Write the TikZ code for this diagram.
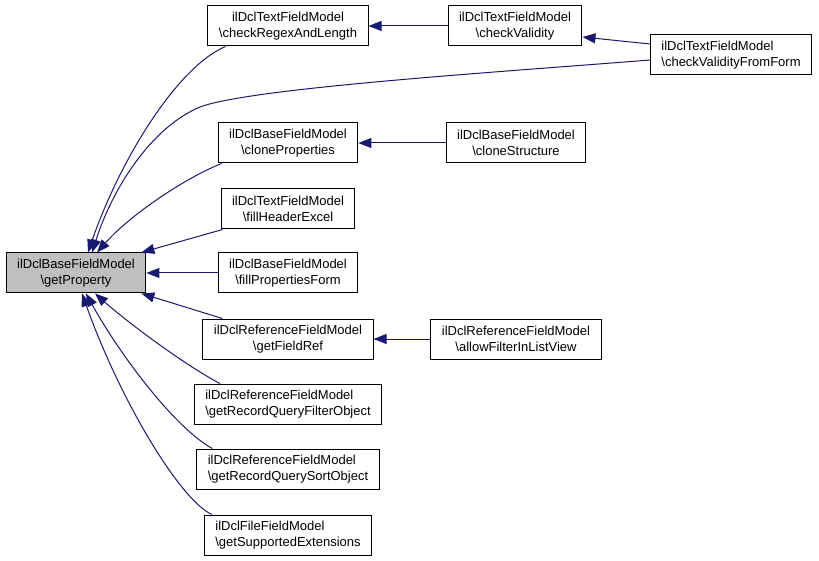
\documentclass[tikz,border=0pt]{standalone}
\usepackage{fontspec}
\setmainfont{Liberation Sans}
\usepackage{tikz}
\usetikzlibrary{arrows.meta}
\definecolor{callblue}{HTML}{191970}
\definecolor{focus}{HTML}{BFBFBF}

\begin{document}
\begin{tikzpicture}[x=1pt, y=-1pt, every node/.style={font=\fontsize{13}{15.5}\selectfont},
  fn/.style={draw=black, line width=1pt, minimum height=40pt, inner xsep=11pt, align=center},
  fnl/.style={fn, align=left},
  call/.style={draw=callblue, line width=1pt, -{Triangle[length=13pt, width=10pt]}}]
  \useasboundingbox (0,0) rectangle (819,561);

  % functions
  \node[fn, fill=focus] (getProp) at (76,273) {ilDclBaseFieldModel\\\textbackslash getProperty};
  \node[fn] (checkRegex) at (288,26) {ilDclTextFieldModel\\\textbackslash checkRegexAndLength};
  \node[fn] (checkValid) at (515,26) {ilDclTextFieldModel\\\textbackslash checkValidity};
  \node[fnl] (fromForm) at (731,55) {ilDclTextFieldModel\\\textbackslash checkValidityFromForm};
  \node[fn] (cloneProps) at (288,143) {ilDclBaseFieldModel\\\textbackslash cloneProperties};
  \node[fn] (cloneStruct) at (516,143) {ilDclBaseFieldModel\\\textbackslash cloneStructure};
  \node[fn] (fillHeader) at (288,209) {ilDclTextFieldModel\\\textbackslash fillHeaderExcel};
  \node[fn] (fillProps) at (288,273) {ilDclBaseFieldModel\\\textbackslash fillPropertiesForm};
  \node[fn] (getFieldRef) at (288,339) {ilDclReferenceFieldModel\\\textbackslash getFieldRef};
  \node[fn] (allowFilter) at (516,339) {ilDclReferenceFieldModel\\\textbackslash allowFilterInListView};
  \node[fnl] (filterObj) at (288,404) {ilDclReferenceFieldModel\\\textbackslash getRecordQueryFilterObject};
  \node[fnl] (sortObj) at (288,469) {ilDclReferenceFieldModel\\\textbackslash getRecordQuerySortObject};
  \node[fnl] (suppExt) at (288,535) {ilDclFileFieldModel\\\textbackslash getSupportedExtensions};

  % calls
  \draw[call] (checkValid.west) -- (checkRegex.east);
  \draw[call] ([yshift=11pt]fromForm.west) -- ([yshift=-11pt]checkValid.east);
  \draw[call] ([yshift=-5pt]fromForm.west) .. controls (500,72) and (250,88) .. (200,107)
    .. controls (150,128) and (112,190) .. ([xshift=16pt]getProp.north);
  \draw[call] ([xshift=18pt]checkRegex.south west) .. controls (175,68) and (118,165) .. ([xshift=12pt]getProp.north);
  \draw[call] (cloneStruct.west) -- (cloneProps.east);
  \draw[call] ([xshift=4pt]cloneProps.south west) .. controls (185,178) and (130,215) .. ([xshift=21pt]getProp.north);
  \draw[call] ([xshift=2pt]fillHeader.south west) -- ([xshift=-5pt]getProp.north east);
  \draw[call] (fillProps.west) -- (getProp.east);
  \draw[call] ([xshift=20pt]getFieldRef.north west) -- ([xshift=-5pt]getProp.south east);
  \draw[call] (allowFilter.west) -- (getFieldRef.east);
  \draw[call] ([xshift=26pt]filterObj.north west) .. controls (180,362) and (125,320) .. ([xshift=19pt]getProp.south);
  \draw[call] ([xshift=16pt]sortObj.north west) .. controls (175,428) and (120,355) .. ([xshift=10pt]getProp.south);
  \draw[call] ([xshift=8pt]suppExt.north west) .. controls (180,500) and (120,400) .. ([xshift=6pt]getProp.south);
\end{tikzpicture}
\end{document}
